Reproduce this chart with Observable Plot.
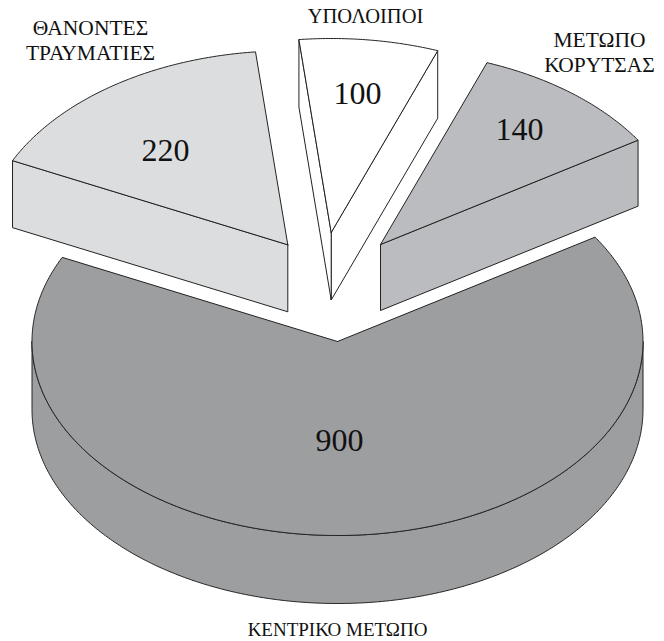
<!DOCTYPE html>
<html>
<head>
<meta charset="utf-8">
<style>html,body{margin:0;padding:0;background:#fff}svg{display:block}</style>
<script src="https://cdn.jsdelivr.net/npm/d3@7"></script>
<script src="https://cdn.jsdelivr.net/npm/@observablehq/plot@0.6"></script>
</head>
<body>
<script>
// data
const names = ["ΚΕΝΤΡΙΚΟ ΜΕΤΩΠΟ", "ΜΕΤΩΠΟ\nΚΟΡΥΤΣΑΣ", "ΥΠΟΛΟΙΠΟΙ", "ΘΑΝΟΝΤΕΣ\nΤΡΑΥΜΑΤΙΕΣ"];
const values = [900, 140, 100, 220];

// appearance and layout
const fills = ["#9d9ea0", "#bbbcbf", "#ffffff", "#dcddde"];
const apexX = [337, 380, 330.7, 287.3];
const apexY = [341, 244, 232, 244.3];
const depths = [68, 66, 67.5, 67];
const valueX = [339, 519, 357, 165];
const valueY = [440, 129, 93, 150];
const nameX = [337, 599, 365, 90];
const nameY = [628, 51, 15, 39];
const nameSizes = [19, 21.5, 20.5, 21.5];
const rx = 305.5, ry = 194, startDeg = 154.3;

const total = d3.sum(values);
const rad = d => d * Math.PI / 180;
let cursor = startDeg;
const slices = values.map((v, i) => {
  const a0 = cursor, a1 = cursor + v / total * 360;
  cursor = a1;
  return {i, a0, a1, cx: apexX[i], cy: apexY[i], depth: depths[i]};
});
const rim = (s, a) => [s.cx + rx * Math.cos(rad(a)), s.cy - ry * Math.sin(rad(a))];
const arc = (s, a0, a1) => {
  const n = Math.max(2, Math.ceil(Math.abs(a1 - a0) * 2));
  return d3.range(n + 1).map(k => rim(s, a0 + (a1 - a0) * k / n));
};

const faces = [];
const addFace = (s, pts) => {
  const id = faces.length ? faces[faces.length - 1].id + 1 : 0;
  [...pts, pts[0]].forEach(p => faces.push({id, x: p[0], y: p[1], fill: fills[s.i]}));
};
const down = (p, s) => [p[0], p[1] + s.depth];
slices.forEach(s => {
  // visible outer wall: the front half of the ellipse
  const ranges = [[180, 360], [540, 720]];
  ranges.forEach(([lo, hi]) => {
    const a0 = Math.max(lo, s.a0), a1 = Math.min(hi, s.a1);
    if (a1 > a0) {
      const top = arc(s, a0, a1);
      addFace(s, [...top, ...top.slice().reverse().map(p => down(p, s))]);
    }
  });
  // visible cut walls
  const apex = [s.cx, s.cy];
  if (Math.cos(rad(s.a0)) > 0) { const r = rim(s, s.a0); addFace(s, [apex, r, down(r, s), down(apex, s)]); }
  if (Math.cos(rad(s.a1)) < 0) { const r = rim(s, s.a1); addFace(s, [apex, r, down(r, s), down(apex, s)]); }
  // top face
  addFace(s, [apex, ...arc(s, s.a0, s.a1)]);
});

const valueRows = values.map((v, i) => ({v: String(v), x: valueX[i], y: valueY[i]}));
const nameRows = names.map((n, i) => ({n, x: nameX[i], y: nameY[i], size: nameSizes[i]}));

const chart = Plot.plot({
  width: 664, height: 641,
  margin: 0,
  x: {domain: [0, 664], range: [0, 664], axis: null},
  y: {domain: [0, 641], range: [0, 641], axis: null},
  style: {background: "#fff"},
  marks: [
    Plot.line(faces, {
      x: "x", y: "y", z: "id",
      fill: "fill", stroke: "#222", strokeWidth: 1,
      curve: "linear", strokeLinejoin: "miter"
    }),
    Plot.text(valueRows, {
      x: "x", y: "y", text: "v", fill: "#111",
      fontFamily: "Liberation Serif", fontSize: 32, lineAnchor: "middle"
    }),
    ...nameRows.map(r => Plot.text([r], {
      x: "x", y: "y", text: "n", fill: "#111",
      fontFamily: "Liberation Serif", fontSize: r.size, lineAnchor: "middle", lineHeight: 1.17
    }))
  ]
});
document.body.appendChild(chart);
</script>
</body>
</html>
